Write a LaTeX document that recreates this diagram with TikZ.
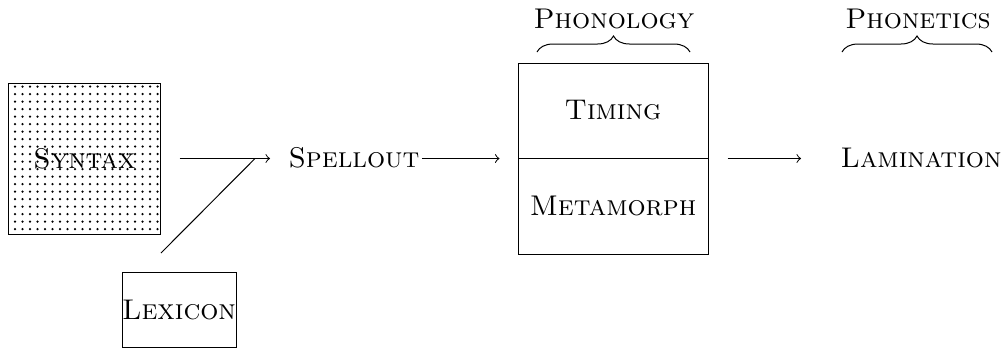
\documentclass[tikz,border=0pt]{standalone}
\usetikzlibrary{patterns,decorations.pathreplacing,calc}
\begin{document}
\begin{tikzpicture}[x=0.4pt,y=-0.4pt,
  every node/.style={font=\fontsize{11.4}{13.6}\selectfont\scshape},
  lbl/.style={inner sep=0pt,anchor=base},
  boxnode/.style={draw,line width=0.4pt,inner sep=1pt},
  arr/.style={->,line width=0.4pt},
  brc/.style={decorate,decoration={brace,amplitude=6.4pt},line width=0.4pt}]
\useasboundingbox (0,0) rectangle (1006,349);
% boxes
\node[boxnode,pattern=dots,minimum width=60.4pt,minimum height=60.4pt] (syntax) at (84.5,158.5) {Syntax};
\node[boxnode,minimum width=45.6pt,minimum height=30pt,inner sep=0pt] (lexicon) at (179,309.5) {Lexicon};
\node[boxnode,minimum width=76pt,minimum height=38pt] (timing) at (613,110.5) {Timing};
\node[boxnode,minimum width=76pt,minimum height=38.4pt] (metamorph) at (613,206) {Metamorph};
% labels
\node[lbl] (spellout) at (354,167) {Spellout};
\node[lbl] (lamination) at (921,167) {Lamination};
\node[lbl] (phonology) at (614,28) {Phonology};
\node[lbl] (phonetics) at (918,28) {Phonetics};
% connectors
\coordinate (join) at (255,158.5);
\coordinate (lexstart) at (161,253);
\draw[arr,shorten <=7.6pt,shorten >=7.2pt] (syntax.east) -- (syntax.east -| spellout.west);
\draw[line width=0.4pt] (lexstart) -- (join);
\draw[arr,shorten <=0.8pt,shorten >=7.2pt] (spellout.east |- timing.south) -- (timing.south west);
\draw[arr,shorten <=7.6pt,shorten >=15.6pt] (timing.south east) -- (timing.south east -| lamination.west);
% braces
\coordinate (pl) at (537,52);
\coordinate (pr) at (690,52);
\coordinate (tl) at (842,52);
\coordinate (tr) at (992,52);
\draw[brc] (pl) -- (pr);
\draw[brc] (tl) -- (tr);
\end{tikzpicture}
\end{document}
